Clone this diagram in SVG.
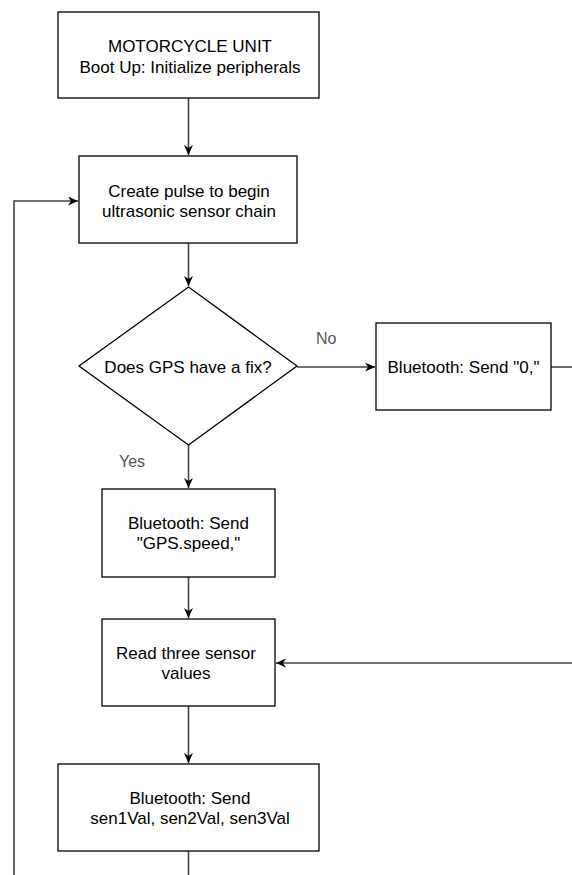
<svg xmlns="http://www.w3.org/2000/svg" width="572" height="875" viewBox="0 0 572 875">
<style>
.box{fill:#fff;stroke:#000;stroke-width:1.3}
.t{font-family:"Liberation Sans",Arial,sans-serif;font-size:17px;fill:#000;text-anchor:middle}
.lbl{font-family:"Liberation Sans",Arial,sans-serif;font-size:16px;fill:#555}
.c{fill:none;stroke:#444;stroke-width:1.6}
</style>
<defs>
<marker id="arr" markerUnits="userSpaceOnUse" markerWidth="12" markerHeight="10" refX="10" refY="4.5" orient="auto">
<path d="M0,0 L10,4.5 L0,9 L3,4.5 z" fill="#000"/>
</marker>
</defs>
<rect width="572" height="875" fill="#fff"/>
<g id="connectors">
<path class="c" d="M188.5,98 V155" marker-end="url(#arr)"/>
<path class="c" d="M188.5,243 V286" marker-end="url(#arr)"/>
<path class="c" d="M297,367 H375" marker-end="url(#arr)"/>
<path class="c" d="M551,367 H572"/>
<path class="c" d="M188.5,445 V488" marker-end="url(#arr)"/>
<path class="c" d="M188.5,577 V618" marker-end="url(#arr)"/>
<path class="c" d="M572,663 H276" marker-end="url(#arr)"/>
<path class="c" d="M188.5,706 V763" marker-end="url(#arr)"/>
<path class="c" d="M188.5,851 V875"/>
<path class="c" d="M14,875 V201 H78" marker-end="url(#arr)"/>
<text class="lbl" x="316" y="344">No</text>
<text class="lbl" x="119" y="467">Yes</text>
</g>
<g id="boot">
<rect class="box" x="58" y="12" width="261" height="86"/>
<text class="t" x="190" y="52">MOTORCYCLE UNIT</text>
<text class="t" x="190" y="73">Boot Up: Initialize peripherals</text>
</g>
<g id="pulse">
<rect class="box" x="79" y="156" width="218" height="87"/>
<text class="t" x="189" y="197">Create pulse to begin</text>
<text class="t" x="189" y="217">ultrasonic sensor chain</text>
</g>
<g id="gpsfix">
<polygon class="box" points="188.5,287 297,366 188.5,445 79,366"/>
<text class="t" x="188" y="373">Does GPS have a fix?</text>
</g>
<g id="send0">
<rect class="box" x="376" y="323" width="175" height="87"/>
<text class="t" x="463.5" y="373">Bluetooth: Send "0,"</text>
</g>
<g id="sendspeed">
<rect class="box" x="102" y="489" width="173" height="88"/>
<text class="t" x="188.5" y="529">Bluetooth: Send</text>
<text class="t" x="188.5" y="549">"GPS.speed,"</text>
</g>
<g id="read">
<rect class="box" x="102" y="619" width="173" height="87"/>
<text class="t" x="186" y="659">Read three sensor</text>
<text class="t" x="186" y="679">values</text>
</g>
<g id="sendvals">
<rect class="box" x="58" y="764" width="261" height="87"/>
<text class="t" x="190" y="804">Bluetooth: Send</text>
<text class="t" x="190" y="824">sen1Val, sen2Val, sen3Val</text>
</g>
</svg>
